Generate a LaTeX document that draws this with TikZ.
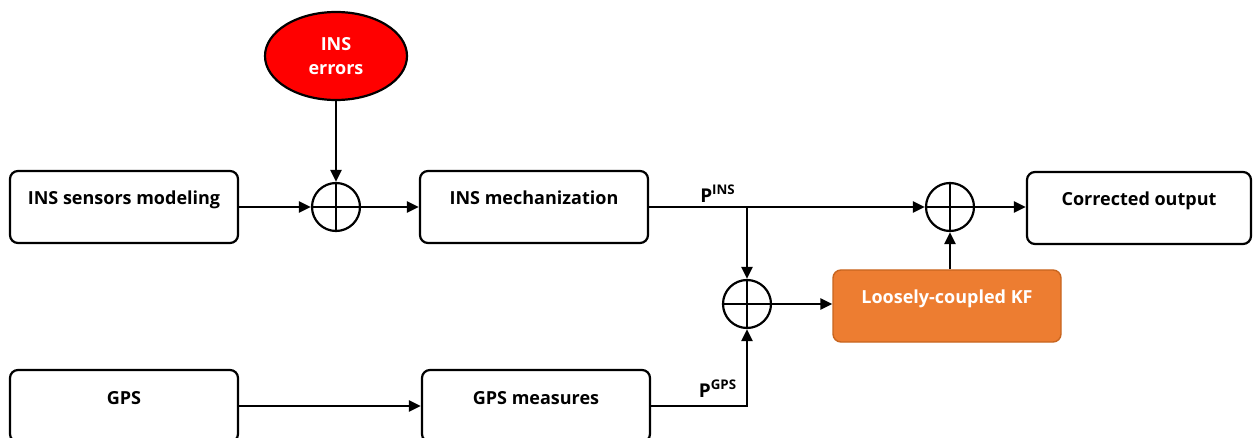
\documentclass[tikz,border=0pt]{standalone}
\usepackage{fontspec}
\setmainfont{Open Sans}
\usetikzlibrary{positioning,arrows.meta,shapes.geometric,calc}
\definecolor{kforange}{HTML}{ED7D31}
\definecolor{kfedge}{HTML}{C8651F}
\definecolor{errred}{HTML}{FF0000}

\begin{document}
\begin{tikzpicture}[
  x=0.5pt, y=-0.5pt,
  box/.style     = {draw, rounded corners=4pt, line width=1.1pt, align=center,
                    font=\bfseries\fontsize{9}{11}\selectfont, inner sep=0pt,
                    minimum width=114pt, minimum height=36pt,
                    text height=7pt, text depth=9pt},
  kfbox/.style   = {box, fill=kforange, draw=kfedge, text=white, line width=0.7pt},
  errnode/.style = {ellipse, draw, fill=errred, text=white, line width=1.1pt,
                    align=center, font=\bfseries\fontsize{9}{12}\selectfont,
                    minimum width=71pt, minimum height=44pt, inner sep=0pt},
  sumnode/.style = {circle, draw, line width=1.1pt, minimum size=24pt, inner sep=0pt,
                    path picture={\draw[line width=1.1pt]
                      (path picture bounding box.north) -- (path picture bounding box.south)
                      (path picture bounding box.west) -- (path picture bounding box.east);}},
  lbl/.style     = {font=\bfseries\fontsize{9.5}{11}\selectfont, inner sep=1pt},
  arr/.style     = {-{Triangle[length=6pt,width=5.5pt]}, line width=1.2pt},
]
\useasboundingbox (0,0) rectangle (1253,438);

\node[box] (sensors) at (124,207) {INS sensors modeling};
\node[sumnode] (sum1) at (336,207) {};
\node[errnode] (errors) at (336,56) {INS\\errors};
\node[box] (mech) at (534,207) {INS mechanization};
\node[sumnode] (sum3) at (950,207) {};
\node[box, minimum width=112pt] (output) at (1139,208) {Corrected output};
\node[sumnode] (sum2) at (747,304) {};
\node[kfbox] (kf) at (947,306) {Loosely-coupled KF};
\node[box] (gps) at (124,406) {GPS};
\node[box] (measures) at (536,406) {GPS measures};
\coordinate (split) at (747,207);

\node[lbl] (pins) at (718,194) {P\textsuperscript{INS}};
\node[lbl] (pgps) at (718,389) {P\textsuperscript{GPS}};

\draw[arr] (sensors) -- (sum1);
\draw[arr] (errors) -- (sum1);
\draw[arr] (sum1) -- (mech);
\draw[arr] (mech) -- (sum3);
\draw[arr] (split) -- (sum2);
\draw[arr] (sum2) -- (sum2 -| kf.west);
\draw[arr] (kf.north -| sum3) -- (sum3);
\draw[arr] (sum3) -- (sum3 -| output.west);
\draw[arr] (gps) -- (measures);
\draw[arr] (measures) -| (sum2);

\end{tikzpicture}
\end{document}
